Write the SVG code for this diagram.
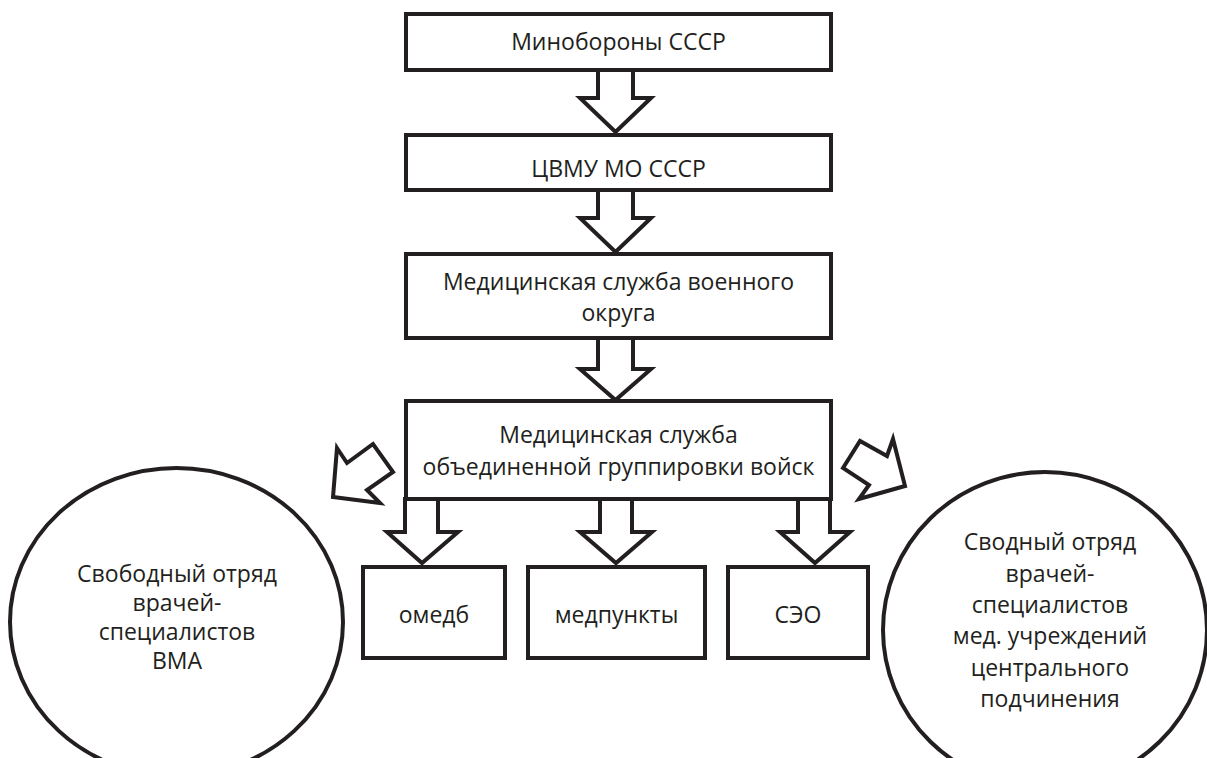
<svg xmlns="http://www.w3.org/2000/svg" width="1207" height="758" viewBox="0 0 1207 758">
<style>
.box{fill:#fff;stroke:#231f20;stroke-width:4}
.arr{fill:#fff;stroke:#231f20;stroke-width:4;stroke-linejoin:miter}
.t{font-family:"Open Sans","Noto Sans",sans-serif;font-size:23px;fill:#231f20;text-anchor:middle}
</style>
<rect width="1207" height="758" fill="#fff"/>
<g id="connectors">
<polygon class="arr" points="598,70 633,70 633,98 651,98 615.5,132 580,98 598,98"/>
<polygon class="arr" points="598,190 633,190 633,218 651,218 615.5,252 580,218 598,218"/>
<polygon class="arr" points="598,338 633,338 633,369 651,369 615.5,400 580,369 598,369"/>
<polygon class="arr" points="405,499 438,499 438,532 458,532 422,563 387,532 405,532"/>
<polygon class="arr" points="600,499 632,499 632,532 652,532 616,563 580,532 600,532"/>
<polygon class="arr" points="798,499 830,499 830,532 850,532 815,563 780,532 798,532"/>
<polygon class="arr" points="337,448 347,463 373,444 393,472 367,490 380,503 333,497"/>
<polygon class="arr" points="843,468 860,441 887,456 893,439 905,486 859,499 869,485"/>
</g>
<g id="n1"><rect class="box" x="406" y="14" width="425" height="56"/><text class="t" x="618.5" y="50">Минобороны СССР</text></g>
<g id="n2"><rect class="box" x="406" y="135" width="425" height="55"/><text class="t" x="618.5" y="177">ЦВМУ МО СССР</text></g>
<g id="n3"><rect class="box" x="406" y="254" width="425" height="84"/><text class="t" x="618.5" y="290">Медицинская служба военного</text><text class="t" x="618.5" y="321">округа</text></g>
<g id="n4"><rect class="box" x="406" y="401" width="425" height="98"/><text class="t" x="618.5" y="443">Медицинская служба</text><text class="t" x="618.5" y="475">объединенной группировки войск</text></g>
<g id="n5"><rect class="box" x="363" y="567" width="142" height="91"/><text class="t" x="434" y="623">омедб</text></g>
<g id="n6"><rect class="box" x="528" y="567" width="177" height="91"/><text class="t" x="616.5" y="623">медпункты</text></g>
<g id="n7"><rect class="box" x="728" y="567" width="140" height="91"/><text class="t" x="798" y="623">СЭО</text></g>
<g id="n8"><ellipse class="box" cx="176.5" cy="622" rx="166.5" ry="154"/>
<text class="t" x="177" y="582">Свободный отряд</text><text class="t" x="177" y="611">врачей-</text><text class="t" x="177" y="640">специалистов</text><text class="t" x="177" y="669">ВМА</text></g>
<g id="n9"><ellipse class="box" cx="1045" cy="630" rx="162" ry="158"/>
<text class="t" x="1050" y="550">Сводный отряд</text><text class="t" x="1050" y="582">врачей-</text><text class="t" x="1050" y="613">специалистов</text><text class="t" x="1050" y="644">мед. учреждений</text><text class="t" x="1050" y="676">центрального</text><text class="t" x="1050" y="707">подчинения</text></g>
</svg>
